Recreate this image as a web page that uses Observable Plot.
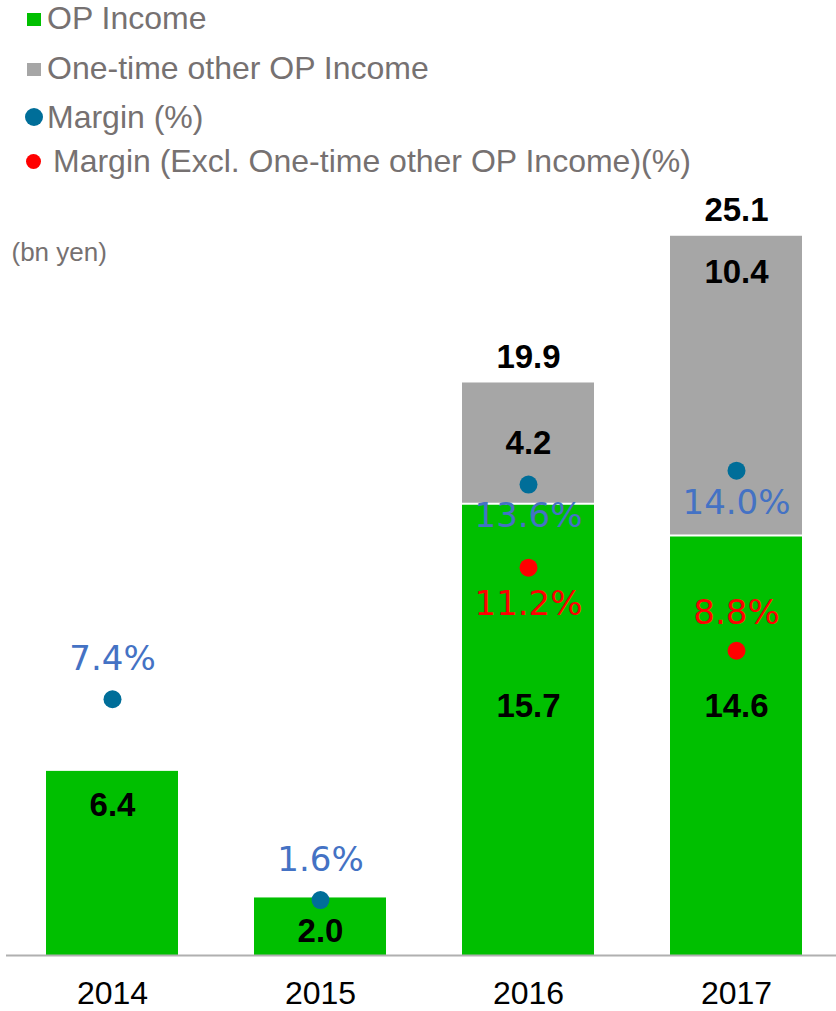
<!DOCTYPE html>
<html>
<head>
<meta charset="utf-8">
<script src="https://cdn.jsdelivr.net/npm/d3@7"></script>
<script src="https://cdn.jsdelivr.net/npm/@observablehq/plot@0.6"></script>
<style>
  html, body { margin: 0; padding: 0; background: #fff; }
  #wrap { width: 836px; }
  #legend {
    position: relative; height: 185px;
    font-family: "Liberation Sans", Arial, sans-serif; font-size: 32px;
    color: #767171; line-height: 32px; white-space: nowrap;
  }
  #legend .sw { position: absolute; }
  #legend .lb { position: absolute; }
  #chart svg { display: block; }
</style>
</head>
<body>
<div id="wrap">
  <div id="legend"></div>
  <div id="chart"></div>
</div>
<script>
// Operating income (bn yen) by fiscal year, with margin percentages
const years = ["2014", "2015", "2016", "2017"];
const opIncome = [6.4, 2.0, 15.7, 14.6];
const oneTimeIncome = [null, null, 4.2, 10.4];
const totalIncome = [null, null, 19.9, 25.1];
const marginPct = [7.4, 1.6, 13.6, 14.0];
const marginExclPct = [null, null, 11.2, 8.8];

const legendItems = [
  {label: "OP Income", shape: "square", color: "#00BF00"},
  {label: "One-time other OP Income", shape: "square", color: "#A6A6A6"},
  {label: "Margin (%)", shape: "circle", color: "#006E99"},
  {label: "Margin (Excl. One-time other OP Income)(%)", shape: "circle", color: "#FF0000"}
];

const rows = years.map((year, i) => ({
  year,
  op: opIncome[i],
  oneTime: oneTimeIncome[i],
  total: totalIncome[i],
  margin: marginPct[i],
  marginExcl: marginExclPct[i]
}));
const stacked = rows.filter(d => d.oneTime != null);
const single = rows.filter(d => d.oneTime == null);

// Legend (HTML, above the plot)
const legend = document.getElementById("legend");
const rowTops = [2, 52, 101, 145];
legendItems.forEach((item, i) => {
  const sw = document.createElement("span");
  sw.className = "sw";
  if (item.shape === "square") {
    Object.assign(sw.style, {left: "27px", top: (rowTops[i] + 11) + "px", width: "14px", height: "13px", background: item.color});
  } else {
    const r = i === 2 ? 9 : 7.5;
    const cx = i === 2 ? 34 : 33;
    Object.assign(sw.style, {left: (cx - r) + "px", top: (rowTops[i] + 16 - r) + "px", width: (2 * r) + "px", height: (2 * r) + "px", borderRadius: "50%", background: item.color});
  }
  legend.appendChild(sw);
  const lb = document.createElement("span");
  lb.className = "lb";
  lb.textContent = item.label;
  Object.assign(lb.style, {left: (i === 3 ? 53 : 47) + "px", top: rowTops[i] + "px"});
  legend.appendChild(lb);
});

// Secondary (margin %) axis mapped onto the primary bn-yen range
const yMax = 26;
const marginMax = 21.6;
const toY = d3.scaleLinear([0, marginMax], [0, yMax]);

const pctFont = "DejaVu Sans, Verdana, sans-serif";
const numFont = "Liberation Sans, Arial, sans-serif";

// The excl. one-time label sits above its dot unless the two margin dots are close
const redAbove = stacked.filter(d => d.margin - d.marginExcl > 4);
const redBelow = stacked.filter(d => d.margin - d.marginExcl <= 4);

const chart = Plot.plot({
  width: 836,
  height: 826,
  marginTop: 22,
  marginBottom: 56,
  marginLeft: 6,
  marginRight: 0,
  style: {fontFamily: numFont, background: "white"},
  x: {domain: years, paddingInner: 0.3636, paddingOuter: 0.1676, align: 0.543, axis: null},
  y: {domain: [0, yMax], axis: null},
  marks: [
    // OP income bars
    Plot.barY(rows, {x: "year", y1: 0, y2: "op", fill: "#00BF00"}),
    // One-time income stacked on top
    Plot.barY(stacked, {x: "year", y1: "op", y2: d => d.op + d.oneTime, fill: "#A6A6A6"}),
    // white separator between the two segments
    Plot.tickY(stacked, {x: "year", y: "op", stroke: "white", strokeWidth: 2}),
    // baseline
    Plot.ruleY([0], {stroke: "#B0B0B0", strokeWidth: 2}),
    Plot.axisX({tickSize: 0, tickPadding: 26, fontSize: 32, fill: "black", fontFamily: numFont, label: null}),
    // unit label
    Plot.text(["(bn yen)"], {frameAnchor: "top-left", textAnchor: "start", lineAnchor: "top", dx: 5, dy: 35, fontSize: 26, fill: "#767171"}),
    // value labels
    Plot.text(rows, {x: "year", y: d => Math.min(d.op - 1.17, 8.65), text: d => d.op.toFixed(1), fontSize: 33, fontWeight: "bold", fill: "black"}),
    Plot.text(stacked, {x: "year", y: d => d.oneTime < 6 ? d.op + d.oneTime / 2 : d.op + d.oneTime - 1.25, text: d => d.oneTime.toFixed(1), fontSize: 33, fontWeight: "bold", fill: "black"}),
    Plot.text(stacked, {x: "year", y: d => d.op + d.oneTime, dy: -26, text: d => d.total.toFixed(1), fontSize: 33, fontWeight: "bold", fill: "black"}),
    // margin dots and labels
    Plot.dot(rows, {x: "year", y: d => toY(d.margin), r: 9, fill: "#006E99"}),
    Plot.text(single, {x: "year", y: d => toY(d.margin), dy: -40, text: d => d.margin.toFixed(1) + "%", fontSize: 34, fontFamily: pctFont, fill: "#4472C4"}),
    Plot.text(stacked, {x: "year", y: d => toY(d.margin), dy: 32, text: d => d.margin.toFixed(1) + "%", fontSize: 34, fontFamily: pctFont, fill: "#4472C4"}),
    Plot.dot(stacked, {x: "year", y: d => toY(d.marginExcl), r: 9, fill: "#FF0000"}),
    Plot.text(redAbove, {x: "year", y: d => toY(d.marginExcl), dy: -38, text: d => d.marginExcl.toFixed(1) + "%", fontSize: 34, fontFamily: pctFont, fill: "#FF0000"}),
    Plot.text(redBelow, {x: "year", y: d => toY(d.marginExcl), dy: 36, text: d => d.marginExcl.toFixed(1) + "%", fontSize: 34, fontFamily: pctFont, fill: "#FF0000"})
  ]
});
document.getElementById("chart").appendChild(chart);
</script>
</body>
</html>
